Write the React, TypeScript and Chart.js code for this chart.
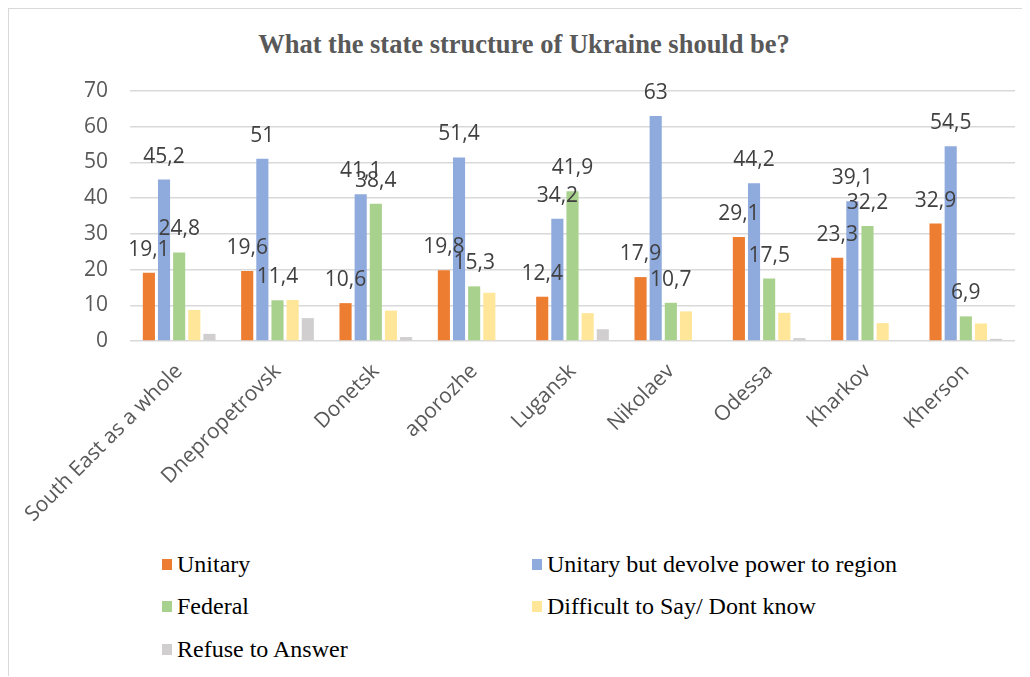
import { useEffect, useRef } from 'react';
import { Chart, registerables } from 'chart.js';

Chart.register(...registerables);

const categories = [
  'South East as a whole',
  'Dnepropetrovsk',
  'Donetsk',
  'aporozhe',
  'Lugansk',
  'Nikolaev',
  'Odessa',
  'Kharkov',
  'Kherson',
];

const unitary = [19.1, 19.6, 10.6, 19.8, 12.4, 17.9, 29.1, 23.3, 32.9];
const unitaryDevolve = [45.2, 51, 41.1, 51.4, 34.2, 63, 44.2, 39.1, 54.5];
const federal = [24.8, 11.4, 38.4, 15.3, 41.9, 10.7, 17.5, 32.2, 6.9];
const difficult = [8.7, 11.5, 8.5, 13.5, 7.8, 8.3, 7.9, 5.0, 4.9];
const refuse = [2.0, 6.4, 1.1, 0, 3.3, 0, 0.8, 0, 0.6];

const seriesNames = [
  'Unitary',
  'Unitary but devolve power to region',
  'Federal',
  'Difficult to Say/ Dont know',
  'Refuse to Answer',
];
const seriesColors = ['#ED7D31', '#8FAADC', '#A9D18E', '#FFE699', '#D0CECE'];
const seriesValues = [unitary, unitaryDevolve, federal, difficult, refuse];
const labelledSeries = [0, 1, 2];

const yMax = 70;
const yStep = 10;
const title = 'What the state structure of Ukraine should be?';

const fmt = (v: number) => String(v).replace('.', ',');

const dataLabelPlugin = {
  id: 'dataLabels',
  afterDatasetsDraw(chart: any) {
    const ctx = chart.ctx;
    ctx.save();
    ctx.font = '21px "Open Sans"';
    ctx.fillStyle = '#404040';
    ctx.textAlign = 'center';
    ctx.textBaseline = 'alphabetic';
    labelledSeries.forEach((di) => {
      const meta = chart.getDatasetMeta(di);
      meta.data.forEach((bar: any, i: number) => {
        const v = chart.data.datasets[di].data[i];
        ctx.fillText(fmt(v), bar.x, bar.y - 17);
      });
    });
    ctx.restore();
  },
};

const CANVAS_W = 1020;
const CANVAS_H = 521;

export default function App() {
  const ref = useRef<HTMLCanvasElement>(null);

  useEffect(() => {
    if (!ref.current) return;
    const chart = new Chart(ref.current, {
      type: 'bar',
      data: {
        labels: categories,
        datasets: seriesNames.map((name, i) => ({
          label: name,
          data: seriesValues[i],
          backgroundColor: seriesColors[i],
          borderWidth: 0,
          categoryPercentage: 0.77,
          barPercentage: 0.8,
        })),
      },
      options: {
        responsive: false,
        animation: false,
        devicePixelRatio: 1,
        layout: { padding: { left: 0, right: 14, top: 82, bottom: 0 } },
        plugins: {
          legend: { display: false },
          tooltip: { enabled: false },
          title: { display: false },
        },
        scales: {
          x: {
            grid: { display: false },
            border: { display: false },
            afterFit: (s: any) => {
              s.height = CANVAS_H - 332;
              s.paddingLeft = 0;
              s.paddingRight = 0;
            },
            ticks: {
              color: '#595959',
              font: { family: '"Open Sans"', size: 21 },
              maxRotation: 45,
              minRotation: 45,
              autoSkip: false,
              padding: 10,
            },
          },
          y: {
            min: 0,
            max: yMax,
            afterFit: (s: any) => {
              s.width = 121;
            },
            grid: { color: '#d9d9d9', lineWidth: 1.5, drawTicks: false },
            border: { display: false },
            ticks: {
              stepSize: yStep,
              color: '#595959',
              font: { family: '"Open Sans"', size: 21 },
              padding: 22,
            },
          },
        },
      },
      plugins: [dataLabelPlugin],
    });
    return () => chart.destroy();
  }, []);

  const legendPos = [
    { left: 153, top: 555 },
    { left: 523, top: 555 },
    { left: 153, top: 597 },
    { left: 523, top: 597 },
    { left: 153, top: 640 },
  ];

  return (
    <div
      style={{
        position: 'relative',
        width: 1022,
        height: 669,
        boxSizing: 'border-box',
        borderTop: '2px solid #d9d9d9',
        borderLeft: '2px solid #d9d9d9',
        marginTop: -1,
        marginLeft: -1,
        overflow: 'hidden',
      }}
    >
      <div
        style={{
          position: 'absolute',
          left: 10,
          top: 20,
          width: 1010,
          height: 30,
          lineHeight: '30px',
          textAlign: 'center',
          fontFamily: '"Liberation Serif", "Times New Roman", serif',
          fontWeight: 'bold',
          fontSize: 26.5,
          color: '#595959',
          whiteSpace: 'nowrap',
        }}
      >
        {title}
      </div>
      <canvas
        ref={ref}
        width={CANVAS_W}
        height={CANVAS_H}
        style={{ position: 'absolute', left: 0, top: 0, width: CANVAS_W, height: CANVAS_H }}
      />
      {seriesNames.map((name, i) => (
        <div
          key={name}
          style={{
            position: 'absolute',
            left: legendPos[i].left,
            top: legendPos[i].top - 15,
            height: 30,
            display: 'flex',
            alignItems: 'center',
            fontFamily: '"Liberation Serif", "Times New Roman", serif',
            fontSize: 24,
            color: '#000',
            whiteSpace: 'nowrap',
          }}
        >
          <span style={{ display: 'inline-block', width: 10, height: 11, background: seriesColors[i], marginRight: 5 }} />
          {name}
        </div>
      ))}
    </div>
  );
}
